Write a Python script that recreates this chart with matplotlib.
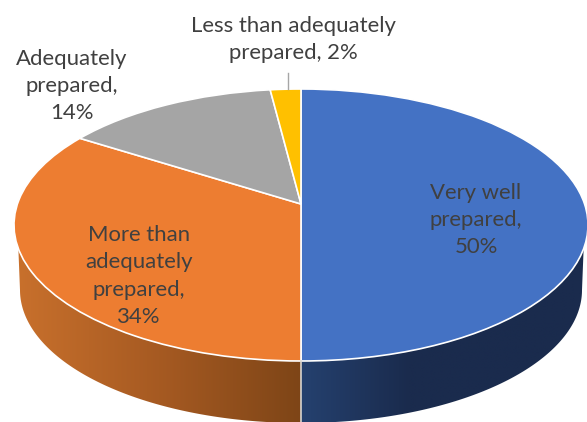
import numpy as np
import matplotlib
matplotlib.use("Agg")
import matplotlib.pyplot as plt
from matplotlib.colors import LinearSegmentedColormap
from matplotlib.patches import Polygon
from matplotlib.transforms import Transform

# chart data
categories = ["Very well\nprepared,", "More than\nadequately\nprepared,",
              "Adequately\nprepared,", "Less than adequately\nprepared,"]
shares = [50, 34, 14, 2]
slice_colors = ["#4472C4", "#ED7D31", "#A5A5A5", "#FFC000"]
wall_colors = [[(0, "#25416F"), (0.38, "#1A2B4D"), (1, "#1A2B4D")],
               [(0, "#C8702C"), (0.5, "#A65A22"), (1, "#7E4517")]]
# label centres in pixels
label_px = [(476, 220), (139, 276), (72, 86), (293, 39.5)]

W, H = 587, 422
cx, cy, rx, ry = 301, 225, 287, 136
apex_y = 204
# bottom rim of the wall
cy2, rx2, ry2 = 290, 281, 133
k = (cy - apex_y) / ry


class Tilt(Transform):
    # perspective of the tilted disc: keeps the unit circle, moves its centre
    input_dims = 2
    output_dims = 2

    def transform_non_affine(self, values):
        x, y = values[:, 0], values[:, 1]
        w = 1 + k * y
        return np.column_stack([np.sqrt(1 - k ** 2) * x / w, (y + k) / w])


plt.rcParams["font.family"] = ["Lato", "DejaVu Sans"]
fig = plt.figure(figsize=(W / 100, H / 100), dpi=100)
ax = fig.add_axes([0, 0, 1, 1])

wedges, _ = ax.pie(shares, colors=slice_colors, startangle=90, counterclock=False, radius=1,
                   wedgeprops={"edgecolor": "white", "linewidth": 1.2})
for wedge in wedges:
    wedge.set_transform(Tilt() + ax.transData)


def draw_wall(side, colors):
    # side is -1 for the left half of the front, +1 for the right
    t_top = np.radians(np.linspace(-90, -90 + side * 80, 120))
    t_low = np.radians(np.linspace(-90, -90 + side * 90, 120))
    top = np.column_stack([np.cos(t_top), np.sin(t_top)])
    low = np.column_stack([np.cos(t_low) * rx2 / rx, (cy - cy2 + np.sin(t_low) * ry2) / ry])
    poly = Polygon(np.vstack([top, low[::-1]]), closed=True, facecolor="none", edgecolor="none")
    ax.add_patch(poly)
    cmap = LinearSegmentedColormap.from_list("wall", colors)
    grad = np.linspace(0, 1, 256).reshape(1, -1)
    xs = top[:, 0]
    extent = [xs.min(), xs.max(), low[:, 1].min(), 0]
    im = ax.imshow(grad, cmap=cmap, extent=extent, aspect="auto", zorder=0.5, interpolation="bilinear")
    im.set_clip_path(poly)
    return low


# only the two big slices reach the front of the disc
draw_wall(1, wall_colors[0])
low_left = draw_wall(-1, wall_colors[1])

ax.set_aspect("auto")
ax.set_xlim(-cx / rx, (W - cx) / rx)
ax.set_ylim(-(H - cy) / ry, cy / ry)
ax.axis("off")

# seam between the two walls
ax.plot([0, 0], [-1, low_left[:, 1].min()], color="#D9D4CE", lw=1.2, zorder=1)

# leader for the small slice
ax.plot([(288 - cx) / rx] * 2, [(cy - 73) / ry, (cy - 89) / ry], color="#A6A6A6", lw=1, zorder=3)

for name, share, (px, py) in zip(categories, shares, label_px):
    sep = " " if name.startswith("Less") else "\n"
    fig.text(px / W, 1 - py / H, f"{name}{sep}{share}%", ha="center", va="center",
             multialignment="center", fontsize=15.9, color="#404040", linespacing=1.46)

fig.savefig("out.png", dpi=100)
